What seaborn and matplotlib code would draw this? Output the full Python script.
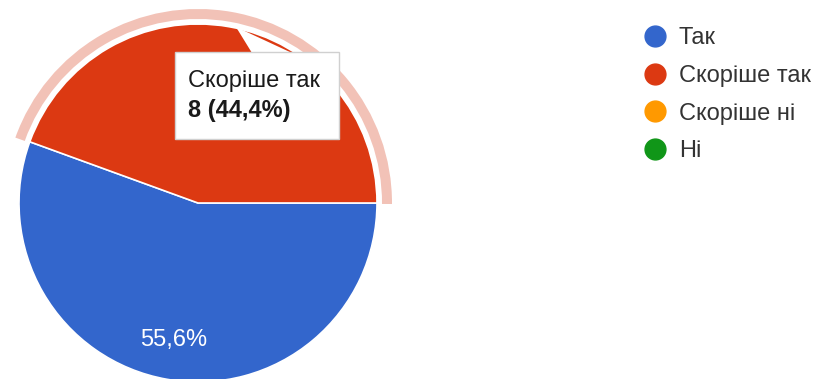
import matplotlib
matplotlib.use("Agg")
import matplotlib.pyplot as plt
from matplotlib.patches import Wedge, Polygon, FancyBboxPatch
from matplotlib.lines import Line2D
import seaborn as sns

# data
answers = ["Так", "Скоріше так", "Скоріше ні", "Ні"]
counts = [10, 8, 0, 0]
colors = ["#3366CC", "#DC3912", "#FF9900", "#109618"]
hovered = "Скоріше так"

sns.set_theme(style="white")
plt.rcParams["font.family"] = ["Liberation Sans", "DejaVu Sans"]

W, H = 816, 379
fig = plt.figure(figsize=(W / 100, H / 100), dpi=100)
ax = fig.add_axes([0, 0, 1, 1])

def fy(y):
    # pixel y (top-down) -> data y
    return H - y

cx, cy, r = 198, fy(203), 179
total = sum(counts)
shown = [(a, c, col) for a, c, col in zip(answers, counts, colors) if c > 0]

def pct_label(p):
    return "" if p < 50 else f"{p:.1f}%".replace(".", ",")

wedges, texts, autotexts = ax.pie(
    [c for _, c, _ in shown],
    colors=[col for _, _, col in shown],
    startangle=0, counterclock=False,
    center=(cx, cy), radius=r,
    autopct=pct_label, pctdistance=0.78,
    wedgeprops=dict(edgecolor="white", linewidth=1.2),
    textprops=dict(color="white", fontsize=17),
)

# highlight ring around the hovered slice
hi = [a for a, _, _ in shown].index(hovered)
w = wedges[hi]
ax.add_patch(Wedge((cx, cy), r + 15, w.theta1 - 0.3, w.theta2 + 0.3, width=10,
                   facecolor="#F2C2B7", edgecolor="none", zorder=0))

# tooltip
bx0, by0, bx1, by1 = 175, 52, 339, 139
ax.add_patch(Polygon([(236, fy(27)), (252, fy(53)), (292, fy(53))],
                     closed=True, facecolor="white", edgecolor="none", zorder=3))
ax.add_patch(FancyBboxPatch((bx0, fy(by1)), bx1 - bx0, by1 - by0,
                            boxstyle="square,pad=0", facecolor="white",
                            edgecolor="#d0d0d0", linewidth=1, zorder=3))
n = counts[answers.index(hovered)]
ax.text(188, fy(81), hovered, fontsize=17, color="#1a1a1a", va="center", zorder=4)
ax.text(188, fy(110), f"{n} ({100 * n / total:.1f}%)".replace(".", ","),
        fontsize=17, fontweight="bold", color="#1a1a1a", va="center", zorder=4)

# legend
handles = [Line2D([], [], marker="o", linestyle="", markersize=15,
                  markerfacecolor=c, markeredgecolor=c) for c in colors]
leg = ax.legend(handles, answers, loc="upper left", bbox_to_anchor=(634 / W, 1 - 18 / H),
                frameon=False, fontsize=17, handlelength=1.0, handletextpad=0.5,
                labelspacing=0.66, borderaxespad=0)
for t in leg.get_texts():
    t.set_color("#333333")

ax.set_xlim(0, W)
ax.set_ylim(0, H)
ax.set_aspect("equal")
ax.axis("off")

fig.savefig("out.png", dpi=100)
